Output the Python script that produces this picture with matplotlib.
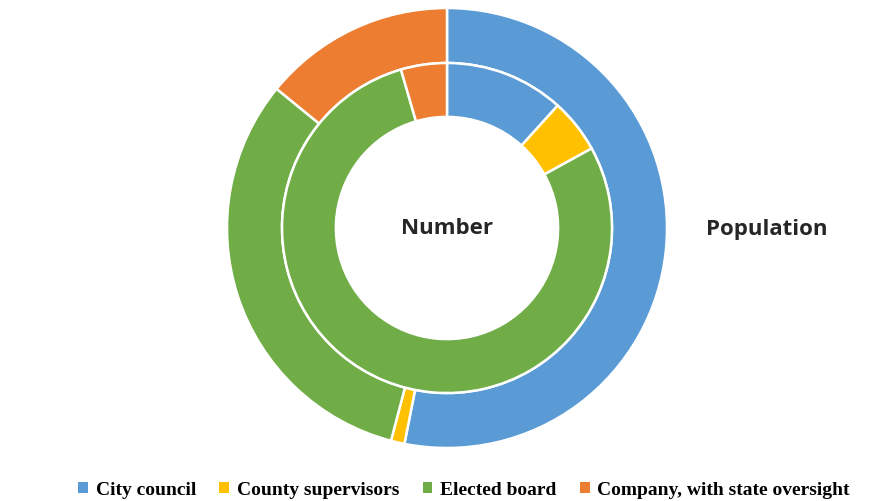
import matplotlib.pyplot as plt
from matplotlib.patches import Patch

# --- data (shares, %) ---
categories = ['City council', 'County supervisors', 'Elected board', 'Company, with state oversight']
number_share = [11.7, 5.3, 78.5, 4.5]
population_share = [53.1, 1.0, 31.8, 14.1]
colors = ['#5B9BD5', '#FFC000', '#70AD47', '#ED7D31']

W, H = 883, 502
fig = plt.figure(figsize=(W / 100, H / 100), dpi=100)

# donut centre (447, 229) px, outer radius 220 px
cx, cy, r = 447, 229, 220
ax = fig.add_axes([(cx - r) / W, (H - cy - r) / H, 2 * r / W, 2 * r / H])
ax.set_aspect('equal')
ax.axis('off')

wedge = dict(edgecolor='white', linewidth=1.8)
ax.pie(population_share, colors=colors, radius=1.0, startangle=90, counterclock=False,
       wedgeprops=dict(width=0.25, **wedge))
ax.pie(number_share, colors=colors, radius=0.75, startangle=90, counterclock=False,
       wedgeprops=dict(width=0.245, **wedge))
ax.set_xlim(-1, 1)
ax.set_ylim(-1, 1)

fig.text(cx / W, 1 - 229 / H, 'Number', ha='center', va='center',
         fontsize=16, fontweight='bold', family='Open Sans', color='#262626')
fig.text(767 / W, 1 - 229 / H, 'Population', ha='center', va='center',
         fontsize=16, fontweight='bold', family='Open Sans', color='#262626')

handles = [Patch(facecolor=c, edgecolor='none') for c in colors]
fig.legend(handles, categories, loc='center', bbox_to_anchor=(0.5255, 1 - 491 / H), ncol=4,
           frameon=False, handlelength=0.5, handleheight=0.5, handletextpad=0.4,
           columnspacing=1.2, prop=dict(family='Liberation Serif', weight='bold', size=14))

fig.savefig('out.png', dpi=100)
